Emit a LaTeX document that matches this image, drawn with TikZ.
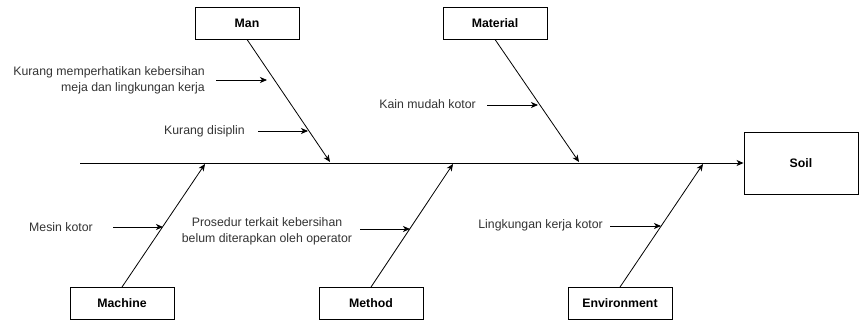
\documentclass[tikz,border=0pt]{standalone}
\usepackage{fontspec}
\setmainfont{Liberation Sans}
\usetikzlibrary{arrows.meta}
\definecolor{labelgray}{HTML}{333333}
\begin{document}
\begin{tikzpicture}[x=1pt,y=-1pt,
  catbox/.style={draw=black,line width=0.9pt,minimum width=104pt,minimum height=32pt,inner sep=0pt,font=\fontsize{12.3}{14}\selectfont\bfseries,text=black},
  causetext/.style={inner sep=0pt,font=\fontsize{12.3}{16}\selectfont,text=labelgray},
  arr/.style={-{Stealth[length=7pt,width=6pt,inset=2pt]},line width=0.8pt,black},
  spine/.style={-{Stealth[length=7pt,width=6pt,inset=2pt]},line width=1pt,black}]
\useasboundingbox (0,0) rectangle (859,322);
% boxes
\node[catbox] (man) at (247,23) {Man};
\node[catbox] (material) at (495,23) {Material};
\node[catbox] (machine) at (122,303.5) {Machine};
\node[catbox] (method) at (371,303.5) {Method};
\node[catbox] (environment) at (620,303.5) {Environment};
\node[catbox,minimum width=114pt,minimum height=62pt] (soil) at (801,163) {Soil};
% spine
\coordinate (tail) at (80,163);
\draw[spine] (tail) -- (soil.west);
% branch ends on spine
\coordinate (manS) at (330,162);
\coordinate (materialS) at (579,162);
\coordinate (machineS) at (205,164);
\coordinate (methodS) at (453,164);
\coordinate (environmentS) at (703,164);
\draw[arr] (man.south) -- (manS);
\draw[arr] (material.south) -- (materialS);
\draw[arr] (machine.north) -- (machineS);
\draw[arr] (method.north) -- (methodS);
\draw[arr] (environment.north) -- (environmentS);
% cause labels
\node[causetext,anchor=east,align=right] (c1) at (205,80) {Kurang memperhatikan kebersihan\\meja dan lingkungan kerja};
\node[causetext,anchor=east] (c2) at (245,131) {Kurang disiplin};
\node[causetext,anchor=east] (c3) at (476,104) {Kain mudah kotor};
\node[causetext,anchor=east] (c4) at (93,227) {Mesin kotor};
\node[causetext,align=center] (c5) at (267,231) {Prosedur terkait kebersihan\\belum diterapkan oleh operator};
\node[causetext,anchor=east] (c6) at (603,225) {Lingkungan kerja kotor};
% cause arrows
\coordinate (a1s) at (216,80); \coordinate (a1e) at (267,80);
\coordinate (a2s) at (258,131); \coordinate (a2e) at (308,131);
\coordinate (a3s) at (487,105); \coordinate (a3e) at (538,105);
\coordinate (a4s) at (113,227); \coordinate (a4e) at (163,227);
\coordinate (a5s) at (360,229); \coordinate (a5e) at (410,229);
\coordinate (a6s) at (610,226); \coordinate (a6e) at (661,226);
\draw[arr] (a1s) -- (a1e);
\draw[arr] (a2s) -- (a2e);
\draw[arr] (a3s) -- (a3e);
\draw[arr] (a4s) -- (a4e);
\draw[arr] (a5s) -- (a5e);
\draw[arr] (a6s) -- (a6e);
\end{tikzpicture}
\end{document}
